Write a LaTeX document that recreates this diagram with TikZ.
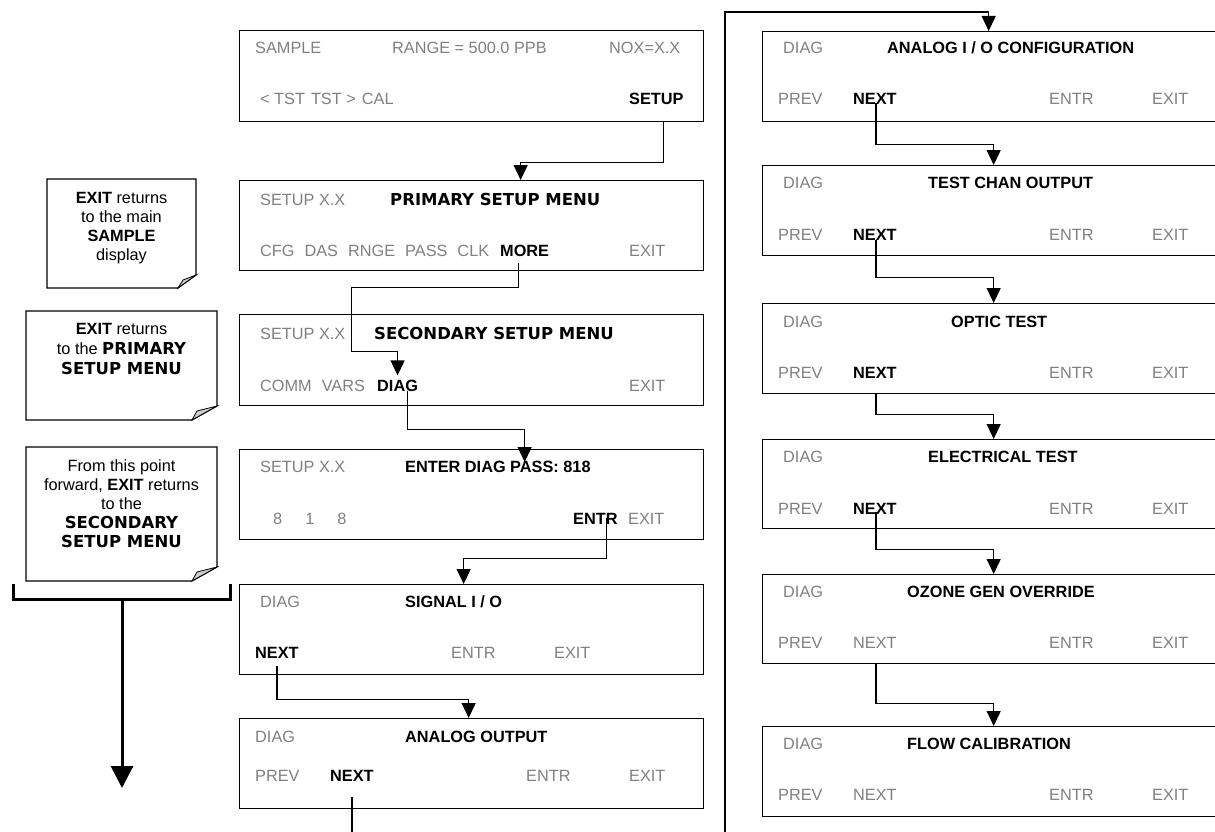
\documentclass[tikz,border=0pt]{standalone}
\usepackage{fontspec}
\setmainfont{Liberation Sans}
\newfontfamily\verd{DejaVu Sans}
\usetikzlibrary{arrows.meta,calc}
\definecolor{dim}{RGB}{128,128,128}
\begin{document}
\begin{tikzpicture}[x=1pt,y=-1pt,
  box/.style={draw, line width=1.3pt, minimum width=464pt, minimum height=90pt, inner sep=0pt, anchor=north west},
  rbox/.style={box, minimum width=462pt},
  g/.style={text=dim, inner sep=0pt, anchor=base west, font=\fontsize{16.3}{19}\selectfont},
  k/.style={g, text=black, font=\fontsize{16.3}{19}\selectfont\bfseries},
  v/.style={g, text=black, font=\fontsize{16.5}{19}\selectfont\verd\bfseries},
  nt/.style={inner sep=0pt, align=center, font=\fontsize{16.3}{19}\selectfont},
  arr/.style={line width=1.2pt, -{Triangle[width=14pt,length=15pt]}},
  con/.style={line width=1.2pt},
  note/.style={line width=1.2pt},
  fold/.style={fill=gray!40, line width=0.8pt},
  big/.style={line width=3pt},
]
\useasboundingbox (0,0) rectangle (1215,832);

% ---------- left column boxes ----------
\node[box, minimum height=91pt] (b1) at (239,30) {};
\node[g] (t1a) at (255,54) {SAMPLE};
\node[g] (t1b) at (392,54) {RANGE = 500.0 PPB};
\node[g] (t1c) at (609,54) {NOX=X.X};
\node[g] (t1d) at (260,105) {< TST\hspace{6pt}TST >\hspace{6pt}CAL};
\node[k] (setup) at (629,105) {SETUP};

\node[box] (b2) at (239,180) {};
\node[g] (t2a) at (260,205) {SETUP X.X};
\node[v] (t2b) at (390,205) {PRIMARY SETUP MENU};
\node[g] (t2c) at (260,256) {CFG\hspace{10pt}DAS\hspace{10pt}RNGE\hspace{10pt}PASS\hspace{10pt}CLK};
\node[k] (more) at (500,256) {MORE};
\node[g] (t2e) at (629,256) {EXIT};

\node[box, minimum height=91pt] (b3) at (239,314) {};
\node[g] (t3a) at (260,339) {SETUP X.X};
\node[v] (t3b) at (374,339) {SECONDARY SETUP MENU};
\node[g] (t3c) at (260,391) {COMM\hspace{10pt}VARS};
\node[k] (diag3) at (377,391) {DIAG};
\node[g] (t3e) at (629,391) {EXIT};

\node[box] (b4) at (239,449) {};
\node[g] (t4a) at (260,472) {SETUP X.X};
\node[k] (t4b) at (405,472) {ENTER DIAG PASS: 818};
\node[g] (t4c) at (273,524) {8\hspace{23pt}1\hspace{23pt}8};
\node[k] (entr4) at (573,524) {ENTR};
\node[g] (t4e) at (628,524) {EXIT};

\node[box] (b5) at (239,584) {};
\node[g] (t5a) at (260,607) {DIAG};
\node[k] (t5b) at (405,607) {SIGNAL I / O};
\node[k] (next5) at (255,658) {NEXT};
\node[g] (t5d) at (451,658) {ENTR};
\node[g] (t5e) at (554,658) {EXIT};

\node[box] (b6) at (239,718) {};
\node[g] (t6a) at (255,742) {DIAG};
\node[k] (t6b) at (405,742) {ANALOG OUTPUT};
\node[g] (t6c) at (255,781) {PREV};
\node[k] (next6) at (330,781) {NEXT};
\node[g] (t6d) at (526,781) {ENTR};
\node[g] (t6e) at (629,781) {EXIT};

% ---------- right column boxes ----------
\node[rbox] (r1) at (762,31) {};
\node[g] (u1a) at (783,54) {DIAG};
\node[k] (u1b) at (887,54) {ANALOG I / O CONFIGURATION};
\node[g] (u1c) at (778,105) {PREV};
\node[k] (rn1) at (853,105) {NEXT};
\node[g] (u1d) at (1049,105) {ENTR};
\node[g] (u1e) at (1152,105) {EXIT};

\node[rbox] (r2) at (762,165) {};
\node[g] (u2a) at (783,188) {DIAG};
\node[k] (u2b) at (928,188) {TEST CHAN OUTPUT};
\node[g] (u2c) at (778,240) {PREV};
\node[k] (rn2) at (853,240) {NEXT};
\node[g] (u2d) at (1049,240) {ENTR};
\node[g] (u2e) at (1152,240) {EXIT};

\node[rbox] (r3) at (762,303) {};
\node[g] (u3a) at (783,327) {DIAG};
\node[k] (u3b) at (951,327) {OPTIC TEST};
\node[g] (u3c) at (778,378) {PREV};
\node[k] (rn3) at (853,378) {NEXT};
\node[g] (u3d) at (1049,378) {ENTR};
\node[g] (u3e) at (1152,378) {EXIT};

\node[rbox, minimum height=89pt] (r4) at (762,439) {};
\node[g] (u4a) at (783,462) {DIAG};
\node[k] (u4b) at (928,462) {ELECTRICAL TEST};
\node[g] (u4c) at (778,514) {PREV};
\node[k] (rn4) at (853,514) {NEXT};
\node[g] (u4d) at (1049,514) {ENTR};
\node[g] (u4e) at (1152,514) {EXIT};

\node[rbox, minimum height=89pt] (r5) at (762,574) {};
\node[g] (u5a) at (783,597) {DIAG};
\node[k] (u5b) at (907,597) {OZONE GEN OVERRIDE};
\node[g] (u5c) at (778,648) {PREV};
\node[g] (rn5) at (853,648) {NEXT};
\node[g] (u5d) at (1049,648) {ENTR};
\node[g] (u5e) at (1152,648) {EXIT};

\node[rbox] (r6) at (762,726) {};
\node[g] (u6a) at (783,749) {DIAG};
\node[k] (u6b) at (907,749) {FLOW CALIBRATION};
\node[g] (u6c) at (778,800) {PREV};
\node[g] (rn6) at (853,800) {NEXT};
\node[g] (u6d) at (1049,800) {ENTR};
\node[g] (u6e) at (1152,800) {EXIT};

% ---------- connectors, left column ----------
\draw[arr] ($(b1.south)+(192,0)$) -- ++(0,40) -| ($(b2.north)+(49,0)$);
\draw[arr] ($(more.south)+(-6,7)$) -- ++(0,24) -| ++(-167,64) -| ($(diag3.north)+(0,-4)$);
\draw[arr] ($(diag3.south)+(10,0)$) -- ++(0,38) -| ($(b4.north)+(53,13)$);
\draw[arr] ($(entr4.south)+(11,-6)$) -- ++(0,40) -| ($(b5.north)+(-8,0)$);
\draw[arr] ($(next5.south)+(0,8)$) -- ++(0,33) -| ($(b6.north)+(-3,0)$);
\coordinate (outbot) at ($(next6.south)+(0,60)$);
\draw[con] ($(next6.south)+(0,16)$) -- (outbot);

% ---------- connectors, right column ----------
\coordinate (feed) at (725,840);
\draw[arr] (feed) -- ++(0,-828) -| ($(r1.north)+(-5,0)$);
\draw[arr] ($(rn1.south)+(1,-2)$) -- ++(0,41) -| (r2.north);
\draw[arr] ($(rn2.south)+(1,0)$) -- ++(0,37) -| (r3.north);
\draw[arr] ($(rn3.south |- r3.south)+(1,0)$) -- ++(0,20) -| (r4.north);
\draw[arr] ($(rn4.south)+(1,-2)$) -- ++(0,37) -| (r5.north);
\draw[arr] ($(rn5.south |- r5.south)+(1,0)$) -- ++(0,39) -| (r6.north);

% ---------- notes ----------
\draw[note] (47,179) -- (196,179) -- (196,275) -- (178,288) -- (47,288) -- cycle;
\filldraw[fold] (178,288) -- (183,280) -- (196,275) -- cycle;
\node[nt] (n1) at (121.5,228) {\textbf{EXIT} returns\\to the main\\\textbf{SAMPLE}\\display};

\draw[note] (26,311) -- (217,311) -- (217,406) -- (192,420) -- (26,420) -- cycle;
\filldraw[fold] (192,420) -- (197,411) -- (217,406) -- cycle;
\node[nt, font=\fontsize{16.3}{20}\selectfont] (n2) at (121.5,349) {\textbf{EXIT} returns\\to the {\verd\bfseries\fontsize{16.5}{20}\selectfont PRIMARY}\\{\verd\bfseries\fontsize{16.5}{20}\selectfont SETUP MENU}};

\draw[note] (26,447) -- (217,447) -- (217,567) -- (192,581) -- (26,581) -- cycle;
\filldraw[fold] (192,581) -- (197,572) -- (217,567) -- cycle;
\node[nt] (n3) at (121.5,504) {From this point\\forward, \textbf{EXIT} returns\\to the\\{\verd\bfseries\fontsize{16.5}{19}\selectfont SECONDARY}\\{\verd\bfseries\fontsize{16.5}{19}\selectfont SETUP MENU}};

% ---------- bracket and big arrow ----------
\coordinate (brl) at (13,584);
\coordinate (brr) at (230,584);
\coordinate (brm) at (122,599);
\coordinate (bigtip) at (122,788);
\draw[big] (brl) -- (brl |- brm) -- (brr |- brm) -- (brr);
\draw[big, -{Triangle[width=22pt,length=22pt]}] (brm) -- (bigtip);
\end{tikzpicture}
\end{document}
